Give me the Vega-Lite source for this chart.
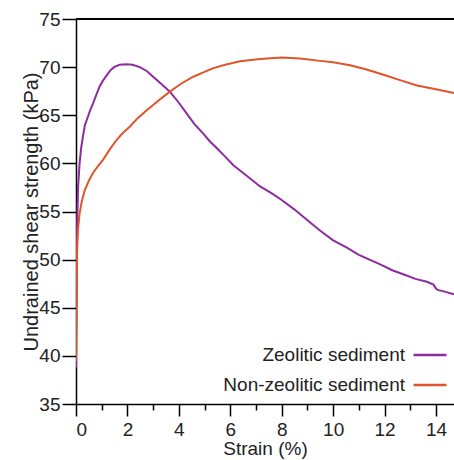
{
  "$schema": "https://vega.github.io/schema/vega-lite/v6.json",
  "width": 378,
  "height": 385,
  "autosize": "none",
  "padding": {"left": 76, "top": 19, "right": 0, "bottom": 56},
  "background": "white",
  "config": {
    "view": {"stroke": null},
    "font": "Liberation Sans",
    "axis": {"grid": false, "domainColor": "black", "domainWidth": 1.5, "tickColor": "black", "tickWidth": 1.5, "labelColor": "#222", "titleColor": "#222", "labelFont": "Liberation Sans", "titleFont": "Liberation Sans", "labelFontSize": 19, "titleFontSize": 19, "titleFontWeight": "normal"}
  },
  "data": {"values": [
    {"strain": 0, "strength": 38.8, "sample": "Zeolitic sediment"},
    {"strain": 0.02, "strength": 46, "sample": "Zeolitic sediment"},
    {"strain": 0.04, "strength": 53, "sample": "Zeolitic sediment"},
    {"strain": 0.08, "strength": 57.5, "sample": "Zeolitic sediment"},
    {"strain": 0.14, "strength": 60.0, "sample": "Zeolitic sediment"},
    {"strain": 0.2, "strength": 61.6, "sample": "Zeolitic sediment"},
    {"strain": 0.27, "strength": 62.8, "sample": "Zeolitic sediment"},
    {"strain": 0.35, "strength": 64.0, "sample": "Zeolitic sediment"},
    {"strain": 0.47, "strength": 64.9, "sample": "Zeolitic sediment"},
    {"strain": 0.55, "strength": 65.5, "sample": "Zeolitic sediment"},
    {"strain": 0.66, "strength": 66.2, "sample": "Zeolitic sediment"},
    {"strain": 0.8, "strength": 67.2, "sample": "Zeolitic sediment"},
    {"strain": 0.92, "strength": 68.0, "sample": "Zeolitic sediment"},
    {"strain": 1.05, "strength": 68.6, "sample": "Zeolitic sediment"},
    {"strain": 1.18, "strength": 69.1, "sample": "Zeolitic sediment"},
    {"strain": 1.35, "strength": 69.7, "sample": "Zeolitic sediment"},
    {"strain": 1.51, "strength": 70.05, "sample": "Zeolitic sediment"},
    {"strain": 1.7, "strength": 70.25, "sample": "Zeolitic sediment"},
    {"strain": 1.96, "strength": 70.3, "sample": "Zeolitic sediment"},
    {"strain": 2.2, "strength": 70.25, "sample": "Zeolitic sediment"},
    {"strain": 2.48, "strength": 70.0, "sample": "Zeolitic sediment"},
    {"strain": 2.75, "strength": 69.6, "sample": "Zeolitic sediment"},
    {"strain": 3.0, "strength": 69.0, "sample": "Zeolitic sediment"},
    {"strain": 3.3, "strength": 68.3, "sample": "Zeolitic sediment"},
    {"strain": 3.65, "strength": 67.45, "sample": "Zeolitic sediment"},
    {"strain": 4.0, "strength": 66.3, "sample": "Zeolitic sediment"},
    {"strain": 4.3, "strength": 65.2, "sample": "Zeolitic sediment"},
    {"strain": 4.6, "strength": 64.1, "sample": "Zeolitic sediment"},
    {"strain": 4.95, "strength": 63.1, "sample": "Zeolitic sediment"},
    {"strain": 5.2, "strength": 62.3, "sample": "Zeolitic sediment"},
    {"strain": 5.47, "strength": 61.6, "sample": "Zeolitic sediment"},
    {"strain": 5.8, "strength": 60.7, "sample": "Zeolitic sediment"},
    {"strain": 6.12, "strength": 59.8, "sample": "Zeolitic sediment"},
    {"strain": 6.6, "strength": 58.8, "sample": "Zeolitic sediment"},
    {"strain": 7.16, "strength": 57.6, "sample": "Zeolitic sediment"},
    {"strain": 7.6, "strength": 56.9, "sample": "Zeolitic sediment"},
    {"strain": 8.0, "strength": 56.2, "sample": "Zeolitic sediment"},
    {"strain": 8.5, "strength": 55.2, "sample": "Zeolitic sediment"},
    {"strain": 9.0, "strength": 54.1, "sample": "Zeolitic sediment"},
    {"strain": 9.5, "strength": 53.0, "sample": "Zeolitic sediment"},
    {"strain": 10.0, "strength": 52.0, "sample": "Zeolitic sediment"},
    {"strain": 10.5, "strength": 51.3, "sample": "Zeolitic sediment"},
    {"strain": 11.0, "strength": 50.5, "sample": "Zeolitic sediment"},
    {"strain": 11.5, "strength": 49.9, "sample": "Zeolitic sediment"},
    {"strain": 11.83, "strength": 49.5, "sample": "Zeolitic sediment"},
    {"strain": 12.3, "strength": 48.9, "sample": "Zeolitic sediment"},
    {"strain": 12.8, "strength": 48.4, "sample": "Zeolitic sediment"},
    {"strain": 13.2, "strength": 48.0, "sample": "Zeolitic sediment"},
    {"strain": 13.65, "strength": 47.7, "sample": "Zeolitic sediment"},
    {"strain": 13.9, "strength": 47.4, "sample": "Zeolitic sediment"},
    {"strain": 14.0, "strength": 47.0, "sample": "Zeolitic sediment"},
    {"strain": 14.06, "strength": 46.85, "sample": "Zeolitic sediment"},
    {"strain": 14.3, "strength": 46.7, "sample": "Zeolitic sediment"},
    {"strain": 14.7, "strength": 46.4, "sample": "Zeolitic sediment"},
    {"strain": 0, "strength": 39.5, "sample": "Non-zeolitic sediment"},
    {"strain": 0.02, "strength": 46, "sample": "Non-zeolitic sediment"},
    {"strain": 0.04, "strength": 50.7, "sample": "Non-zeolitic sediment"},
    {"strain": 0.08, "strength": 53.2, "sample": "Non-zeolitic sediment"},
    {"strain": 0.14, "strength": 54.8, "sample": "Non-zeolitic sediment"},
    {"strain": 0.22, "strength": 56.0, "sample": "Non-zeolitic sediment"},
    {"strain": 0.34, "strength": 57.2, "sample": "Non-zeolitic sediment"},
    {"strain": 0.5, "strength": 58.2, "sample": "Non-zeolitic sediment"},
    {"strain": 0.66, "strength": 59.0, "sample": "Non-zeolitic sediment"},
    {"strain": 0.85, "strength": 59.7, "sample": "Non-zeolitic sediment"},
    {"strain": 1.05, "strength": 60.35, "sample": "Non-zeolitic sediment"},
    {"strain": 1.3, "strength": 61.4, "sample": "Non-zeolitic sediment"},
    {"strain": 1.57, "strength": 62.4, "sample": "Non-zeolitic sediment"},
    {"strain": 1.8, "strength": 63.1, "sample": "Non-zeolitic sediment"},
    {"strain": 2.09, "strength": 63.8, "sample": "Non-zeolitic sediment"},
    {"strain": 2.4, "strength": 64.7, "sample": "Non-zeolitic sediment"},
    {"strain": 2.74, "strength": 65.5, "sample": "Non-zeolitic sediment"},
    {"strain": 3.2, "strength": 66.5, "sample": "Non-zeolitic sediment"},
    {"strain": 3.65, "strength": 67.45, "sample": "Non-zeolitic sediment"},
    {"strain": 4.1, "strength": 68.3, "sample": "Non-zeolitic sediment"},
    {"strain": 4.56, "strength": 69.0, "sample": "Non-zeolitic sediment"},
    {"strain": 5.0, "strength": 69.5, "sample": "Non-zeolitic sediment"},
    {"strain": 5.34, "strength": 69.9, "sample": "Non-zeolitic sediment"},
    {"strain": 5.8, "strength": 70.25, "sample": "Non-zeolitic sediment"},
    {"strain": 6.38, "strength": 70.6, "sample": "Non-zeolitic sediment"},
    {"strain": 7.16, "strength": 70.85, "sample": "Non-zeolitic sediment"},
    {"strain": 8.0, "strength": 71.0, "sample": "Non-zeolitic sediment"},
    {"strain": 8.71, "strength": 70.9, "sample": "Non-zeolitic sediment"},
    {"strain": 9.5, "strength": 70.65, "sample": "Non-zeolitic sediment"},
    {"strain": 10.0, "strength": 70.5, "sample": "Non-zeolitic sediment"},
    {"strain": 10.66, "strength": 70.2, "sample": "Non-zeolitic sediment"},
    {"strain": 11.3, "strength": 69.75, "sample": "Non-zeolitic sediment"},
    {"strain": 11.96, "strength": 69.2, "sample": "Non-zeolitic sediment"},
    {"strain": 12.6, "strength": 68.65, "sample": "Non-zeolitic sediment"},
    {"strain": 13.26, "strength": 68.1, "sample": "Non-zeolitic sediment"},
    {"strain": 14.0, "strength": 67.7, "sample": "Non-zeolitic sediment"},
    {"strain": 14.7, "strength": 67.3, "sample": "Non-zeolitic sediment"}
  ]},
  "layer": [
    {
      "mark": {"type": "rule", "color": "black", "strokeWidth": 1.5},
      "encoding": {"y": {"datum": 75}}
    },
    {
      "mark": {"type": "line", "strokeWidth": 2, "clip": true},
      "encoding": {
        "x": {
          "field": "strain", "type": "quantitative",
          "scale": {"domain": [0, 14.7], "nice": false, "zero": false},
          "axis": {
            "title": "Strain (%)",
            "values": [0,1,2,3,4,5,6,7,8,9,10,11,12,13,14],
            "labelExpr": "datum.value % 2 === 0 ? datum.label : ''",
            "tickSize": {"condition": {"test": "datum.value % 2 === 0", "value": 12}, "value": 6},
            "labelPadding": 4,
            "titlePadding": 0
          }
        },
        "y": {
          "field": "strength", "type": "quantitative",
          "scale": {"domain": [35, 75], "nice": false, "zero": false},
          "axis": {
            "title": "Undrained shear strength (kPa)",
            "titleFontSize": 20,
            "values": [35,37.5,40,42.5,45,47.5,50,52.5,55,57.5,60,62.5,65,67.5,70,72.5,75],
            "labelExpr": "datum.value % 5 === 0 ? datum.label : ''",
            "tickSize": {"condition": {"test": "datum.value % 5 === 0", "value": 14}, "value": 8},
            "labelPadding": 2,
            "titlePadding": -3
          }
        },
        "color": {
          "field": "sample", "type": "nominal",
          "scale": {"domain": ["Zeolitic sediment", "Non-zeolitic sediment"], "range": ["#8e2ba0", "#e0542a"]},
          "legend": {
            "title": null,
            "orient": "none",
            "legendX": 336,
            "legendY": 318,
            "symbolType": "stroke",
            "symbolSize": 1089,
            "symbolStrokeWidth": 2.5,
            "labelAlign": "right",
            "labelOffset": -43,
            "labelFontSize": 19,
            "labelFont": "Liberation Sans",
            "labelColor": "#222",
            "labelLimit": 0,
            "rowPadding": 2,
            "padding": 0
          }
        }
      }
    }
  ]
}
